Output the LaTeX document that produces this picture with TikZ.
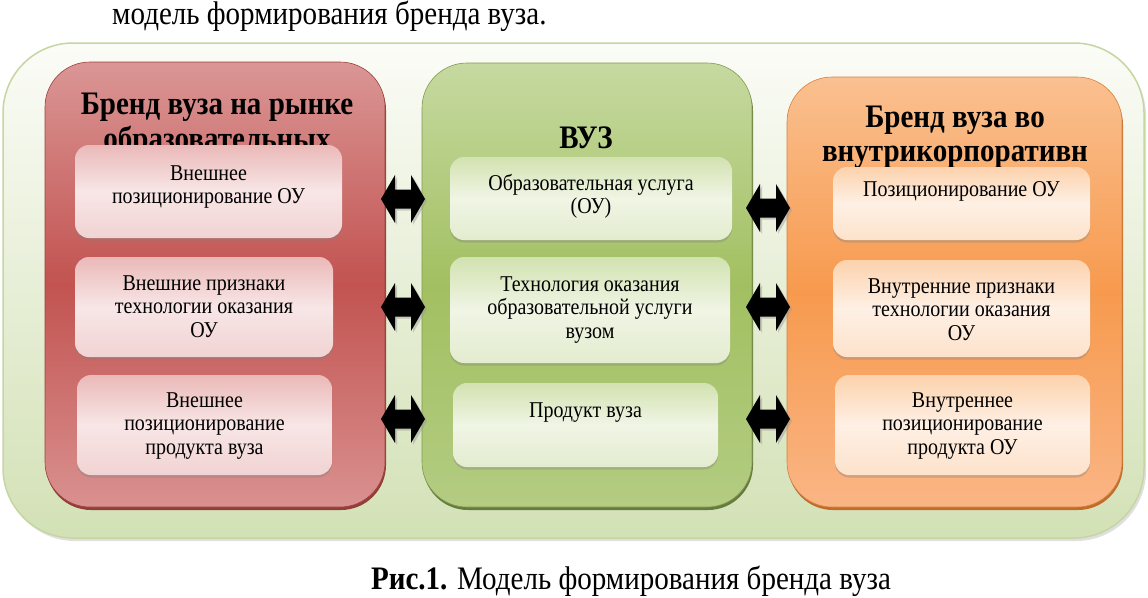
\documentclass[tikz,border=0pt]{standalone}
\usepackage{fontspec}
\setmainfont{Liberation Serif}[FakeStretch=0.885]
\usetikzlibrary{shadows}
\definecolor{outerTop}{HTML}{FBFCF7}
\definecolor{outerBot}{HTML}{D3E1B6}
\definecolor{outerLine}{HTML}{C6D6A2}
\definecolor{redTop}{HTML}{DA9695}
\definecolor{redMid}{HTML}{C25350}
\definecolor{redBot}{HTML}{D99190}
\definecolor{redRim}{HTML}{8E2D2B}
\definecolor{redInTop}{HTML}{EAB9B8}
\definecolor{redInMid}{HTML}{F8E6E6}
\definecolor{redInBot}{HTML}{F1D3D3}
\definecolor{grnTop}{HTML}{C6D9A1}
\definecolor{grnMid}{HTML}{A2C061}
\definecolor{grnBot}{HTML}{B3CC82}
\definecolor{grnRim}{HTML}{5A7030}
\definecolor{grnInTop}{HTML}{D2E2B0}
\definecolor{grnInMid}{HTML}{F0F5E5}
\definecolor{grnInBot}{HTML}{E3ECCF}
\definecolor{orgTop}{HTML}{FAC090}
\definecolor{orgMid}{HTML}{F79A4E}
\definecolor{orgBot}{HTML}{FAB585}
\definecolor{orgRim}{HTML}{C2601A}
\definecolor{orgInTop}{HTML}{FCD2AC}
\definecolor{orgInMid}{HTML}{FEF0E5}
\definecolor{orgInBot}{HTML}{FDE2CB}
\tikzset{
  colbox/.style={rounded corners=45pt, inner sep=0pt},
  inbox/.style={rounded corners=14pt, inner sep=0pt,
    drop shadow={shadow xshift=0pt, shadow yshift=-2.5pt, opacity=0.35}},
  intext/.style={anchor=north, inner sep=0pt, align=center,
    font=\fontsize{22.6pt}{23.5pt}\selectfont},
  headtext/.style={anchor=base, inner sep=0pt,
    font=\fontsize{32.8pt}{35pt}\selectfont\bfseries},
  bigtext/.style={inner sep=0pt, font=\fontsize{32.8pt}{35pt}\selectfont},
  dblarr/.pic={
    \fill[black!40, opacity=0.45] (-20,2) -- (-6,-22) -- (-6,-7.5) -- (10,-7.5) -- (10,-22) -- (24,2)
      -- (10,26) -- (10,11.5) -- (-6,11.5) -- (-6,26) -- cycle;
    \fill[black] (-22,0) -- (-8,-24) -- (-8,-9.5) -- (8,-9.5) -- (8,-24) -- (22,0)
      -- (8,24) -- (8,9.5) -- (-8,9.5) -- (-8,24) -- cycle;
  }
}
\begin{document}
\begin{tikzpicture}[x=1pt,y=-1pt]
\useasboundingbox (0,0) rectangle (1148,597);
\fill[white] (0,0) rectangle (1148,597);

% top line of text
\node[bigtext, anchor=base west] (toptext) at (112,24) {модель формирования бренда вуза.};

% outer panel
\node[rounded corners=70pt, inner sep=0pt, minimum width=1141pt, minimum height=495pt,
  top color=outerTop, bottom color=outerBot, draw=outerLine, line width=1.5pt,
  drop shadow={shadow xshift=2pt, shadow yshift=-3pt, opacity=0.25}] (outer) at (573.5,290.5) {};

% columns
\node[colbox, minimum width=340pt, minimum height=445pt,
  top color=redTop, bottom color=redBot, middle color=redMid, draw=redMid!80!black, line width=0.6pt,
  drop shadow={shadow xshift=1pt, shadow yshift=-3pt, opacity=0.9, fill=redRim}] (redcol) at (215,284.5) {};
\node[colbox, minimum width=330pt, minimum height=444pt,
  top color=grnTop, bottom color=grnBot, middle color=grnMid, draw=grnMid!80!black, line width=0.6pt,
  drop shadow={shadow xshift=1pt, shadow yshift=-3pt, opacity=0.9, fill=grnRim}] (grncol) at (587,285) {};
\node[colbox, minimum width=335pt, minimum height=430pt,
  top color=orgTop, bottom color=orgBot, middle color=orgMid, draw=orgMid!85!black, line width=0.6pt,
  drop shadow={shadow xshift=1pt, shadow yshift=-3pt, opacity=0.9, fill=orgRim}] (orgcol) at (954.5,292) {};

% headers
\node[headtext] (redh1) at (217,114) {Бренд вуза на рынке};
\node[headtext] (redh2) at (217,149) {образовательных};
\node[headtext] (grnh) at (586,148) {ВУЗ};
\node[headtext] (orgh1) at (955,127) {Бренд вуза во};
\node[headtext] (orgh2) at (955,161) {внутрикорпоративн};

% red inner boxes
\node[inbox, minimum width=267pt, minimum height=93pt, top color=redInTop, bottom color=redInBot, middle color=redInMid] (r1) at (208.5,191.5) {};
\node[inbox, minimum width=258pt, minimum height=100pt, top color=redInTop, bottom color=redInBot, middle color=redInMid] (r2) at (204,307) {};
\node[inbox, minimum width=255pt, minimum height=100pt, top color=redInTop, bottom color=redInBot, middle color=redInMid] (r3) at (204.5,425) {};
% green inner boxes
\node[inbox, minimum width=282pt, minimum height=83pt, top color=grnInTop, bottom color=grnInBot, middle color=grnInMid] (g1) at (591,198.5) {};
\node[inbox, minimum width=280pt, minimum height=106pt, top color=grnInTop, bottom color=grnInBot, middle color=grnInMid] (g2) at (590,310) {};
\node[inbox, minimum width=265pt, minimum height=84pt, top color=grnInTop, bottom color=grnInBot, middle color=grnInMid] (g3) at (585.5,425) {};
% orange inner boxes
\node[inbox, minimum width=257pt, minimum height=73pt, top color=orgInTop, bottom color=orgInBot, middle color=orgInMid] (o1) at (961.5,203.5) {};
\node[inbox, minimum width=257pt, minimum height=97pt, top color=orgInTop, bottom color=orgInBot, middle color=orgInMid] (o2) at (961.5,308.5) {};
\node[inbox, minimum width=255pt, minimum height=100pt, top color=orgInTop, bottom color=orgInBot, middle color=orgInMid] (o3) at (962.5,425) {};

% inner texts (first baseline = top + offset; node top = baseline - 16)
\node[intext] (r1t) at (208.5,164) {\rule{0pt}{16pt}Внешнее\\позиционирование ОУ};
\node[intext] (r2t) at (204,274) {\rule{0pt}{16pt}Внешние признаки\\технологии оказания\\ОУ};
\node[intext] (r3t) at (204.5,391) {\rule{0pt}{16pt}Внешнее\\позиционирование\\продукта вуза};
\node[intext] (g1t) at (591,174) {\rule{0pt}{16pt}Образовательная услуга\\(ОУ)};
\node[intext] (g2t) at (590,275) {\rule{0pt}{16pt}Технология оказания\\образовательной услуги\\вузом};
\node[intext] (g3t) at (585.5,401) {\rule{0pt}{16pt}Продукт вуза};
\node[intext] (o1t) at (961.5,180) {\rule{0pt}{16pt}Позиционирование ОУ};
\node[intext] (o2t) at (961.5,277) {\rule{0pt}{16pt}Внутренние признаки\\технологии оказания\\ОУ};
\node[intext] (o3t) at (962.5,391) {\rule{0pt}{16pt}Внутреннее\\позиционирование\\продукта ОУ};

% double arrows
\pic at (403,199) {dblarr};
\pic at (403,307) {dblarr};
\pic at (403,419) {dblarr};
\pic at (768,208) {dblarr};
\pic at (768,307) {dblarr};
\pic at (768,419) {dblarr};

% caption
\node[bigtext, anchor=base] (caption) at (631,589) {\textbf{Рис.1.} Модель формирования бренда вуза};
\end{tikzpicture}
\end{document}
